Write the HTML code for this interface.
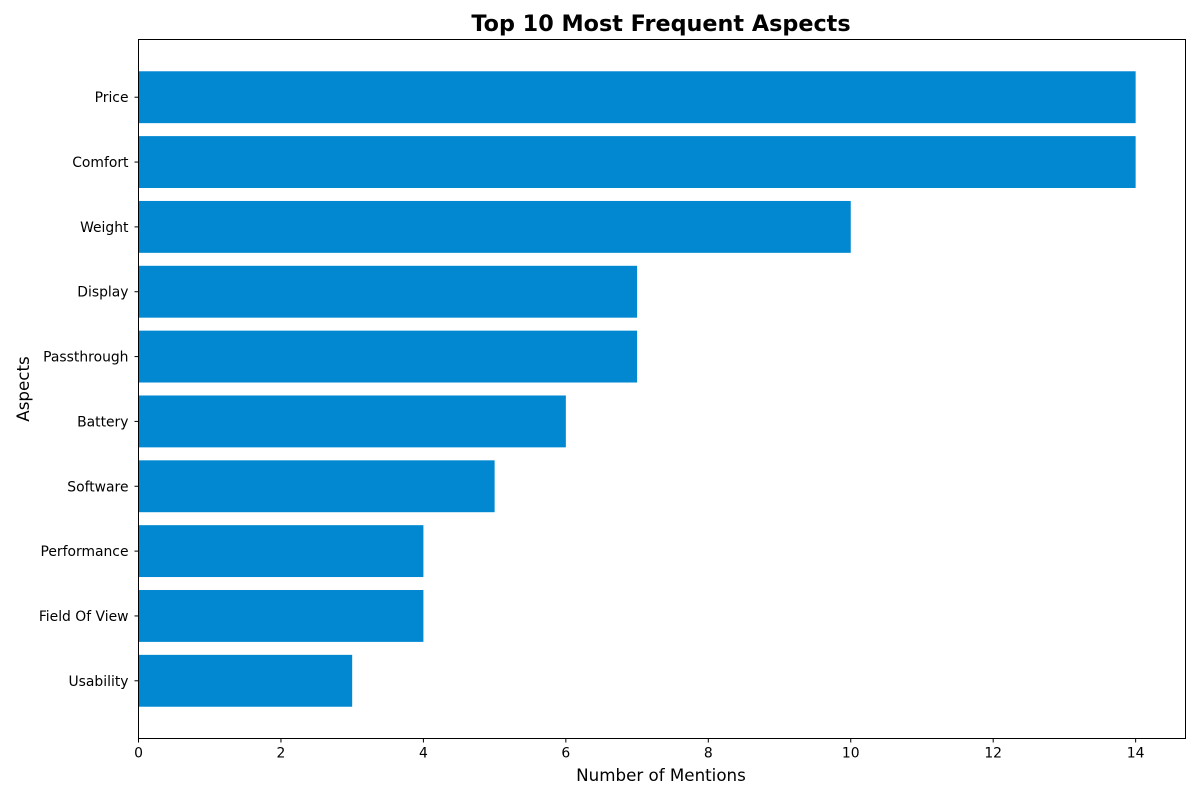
<!DOCTYPE html>
<html><head><meta charset="utf-8"><style>
body{margin:0;background:#fff;font-family:"DejaVu Sans","Liberation Sans",sans-serif}
svg text{font-family:"DejaVu Sans","Liberation Sans",sans-serif}
</style></head><body>
<svg id="chart" width="1200" height="800" xmlns="http://www.w3.org/2000/svg">
<text x="661" y="31" text-anchor="middle" font-size="22.3" font-weight="bold">Top 10 Most Frequent Aspects</text>
<g id="bars"></g><g id="xticks"></g><g id="yticks"></g>
<rect x="138.5" y="39.5" width="1047" height="699" fill="none" stroke="#000" stroke-width="1"/>
<text x="661" y="781" text-anchor="middle" font-size="16.7">Number of Mentions</text>
<text x="29" y="389" text-anchor="middle" font-size="16.7" transform="rotate(-90 29 389)">Aspects</text>
</svg>
<script>
const categories=["Price","Comfort","Weight","Display","Passthrough","Battery","Software","Performance","Field Of View","Usability"];
const values=[14,14,10,7,7,6,5,4,4,3];
const xTicks=[0,2,4,6,8,10,12,14];
const L=138.5,R=1185.5,T=39.5,B=738.5,xMax=14.7;
const n=categories.length;
const yMin=-0.89,yMax=n-1+0.89;
const xs=v=>L+(v/xMax)*(R-L);
const ys=i=>T+((i-yMin)/(yMax-yMin))*(B-T);
const unit=(B-T)/(yMax-yMin);
const NS="http://www.w3.org/2000/svg";
const bars=document.getElementById('bars'),xt=document.getElementById('xticks'),yt=document.getElementById('yticks');
categories.forEach((c,i)=>{
 const r=document.createElementNS(NS,'rect');
 r.setAttribute('x',xs(0));r.setAttribute('y',ys(i)-0.4*unit);
 r.setAttribute('width',xs(values[i])-xs(0));r.setAttribute('height',0.8*unit);
 r.setAttribute('fill','#0288d1');
 
 
 bars.appendChild(r);
 const l=document.createElementNS(NS,'line');
 l.setAttribute('x1',L-4);l.setAttribute('x2',L);l.setAttribute('y1',ys(i));l.setAttribute('y2',ys(i));l.setAttribute('stroke','#000');
 
 
 yt.appendChild(l);
 const t=document.createElementNS(NS,'text');
 t.setAttribute('x',L-10);t.setAttribute('y',ys(i)+5);t.setAttribute('text-anchor','end');t.setAttribute('font-size','13.9');
 t.textContent=c;
 
 
 yt.appendChild(t);
});
xTicks.forEach(v=>{
 const l=document.createElementNS(NS,'line');
 l.setAttribute('x1',xs(v));l.setAttribute('x2',xs(v));l.setAttribute('y1',B);l.setAttribute('y2',B+4);l.setAttribute('stroke','#000');
 
 
 xt.appendChild(l);
 const t=document.createElementNS(NS,'text');
 t.setAttribute('x',xs(v));t.setAttribute('y',B+19);t.setAttribute('text-anchor','middle');t.setAttribute('font-size','13.9');
 t.textContent=v;
 
 
 xt.appendChild(t);
});
</script>
</body></html>
